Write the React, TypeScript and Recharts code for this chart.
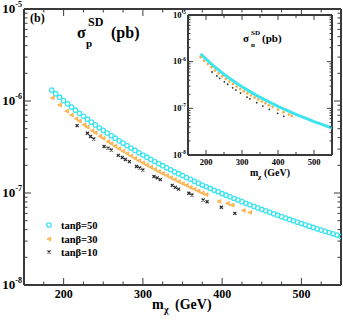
import React from "react";
import { ScatterChart, Scatter, XAxis, YAxis } from "recharts";

const FONT = "'Liberation Serif', 'Times New Roman', serif";
const AXIS = "#3a3a3a";
const CYAN = "#3ee4f0";
const ORANGE = "#ffa83a";
const BLACK = "#2a2a2a";

// main panel: sigma_p^SD (pb) vs m_chi (GeV)
const mTan50 = [
  185, 190, 195, 200, 205, 210, 215, 220, 225, 230, 235, 240, 245, 250, 255, 260, 265, 270, 275, 280,
  285, 290, 295, 300, 305, 310, 315, 320, 325, 330, 335, 340, 345, 350, 355, 360, 365, 370, 375, 380,
  385, 390, 395, 400, 405, 410, 415, 420, 425, 430, 435, 440, 445, 450, 455, 460, 465, 470, 475, 480,
  485, 490, 495, 500, 505, 510, 515, 520, 525, 530, 535, 540, 545, 550,
];
const sigTan50 = [
  1.315e-6, 1.2e-6, 1.1e-6, 1.01e-6, 9.31e-7, 8.59e-7, 7.94e-7, 7.36e-7, 6.82e-7, 6.34e-7, 5.89e-7, 5.5e-7,
  5.12e-7, 4.79e-7, 4.48e-7, 4.2e-7, 3.94e-7, 3.69e-7, 3.48e-7, 3.27e-7, 3.08e-7, 2.9e-7, 2.74e-7, 2.59e-7,
  2.45e-7, 2.32e-7, 2.2e-7, 2.09e-7, 1.98e-7, 1.88e-7, 1.79e-7, 1.7e-7, 1.62e-7, 1.55e-7, 1.47e-7, 1.41e-7,
  1.34e-7, 1.28e-7, 1.22e-7, 1.17e-7, 1.12e-7, 1.07e-7, 1.03e-7, 9.86e-8, 9.46e-8, 9.08e-8, 8.71e-8, 8.37e-8,
  8.05e-8, 7.73e-8, 7.45e-8, 7.16e-8, 6.89e-8, 6.64e-8, 6.4e-8, 6.17e-8, 5.94e-8, 5.74e-8, 5.53e-8, 5.35e-8,
  5.16e-8, 4.99e-8, 4.82e-8, 4.66e-8, 4.51e-8, 4.36e-8, 4.22e-8, 4.08e-8, 3.95e-8, 3.83e-8, 3.72e-8, 3.6e-8,
  3.49e-8, 3.38e-8,
];
const mTan30 = [
  186, 195, 204, 210, 216, 220, 226, 230, 236, 240, 246, 250, 256, 260, 265, 270, 275, 280, 285, 290,
  295, 300, 305, 310, 315, 320, 325, 330, 335, 340, 345, 350, 355, 360, 365, 370, 375, 380, 396, 407,
  413, 427, 435,
];
const sigTan30 = [
  1.08e-6, 9.06e-7, 7.76e-7, 7.05e-7, 6.41e-7, 6.04e-7, 5.52e-7, 5.2e-7, 4.76e-7, 4.51e-7, 4.14e-7, 3.93e-7,
  3.62e-7, 3.44e-7, 3.23e-7, 3.03e-7, 2.85e-7, 2.68e-7, 2.53e-7, 2.38e-7, 2.25e-7, 2.13e-7, 2.01e-7, 1.91e-7,
  1.81e-7, 1.71e-7, 1.63e-7, 1.55e-7, 1.47e-7, 1.4e-7, 1.33e-7, 1.27e-7, 1.21e-7, 1.15e-7, 1.1e-7, 1.05e-7,
  1.0e-7, 9.61e-8, 8.1e-8, 7.7e-8, 7.4e-8, 6.45e-8, 6.15e-8,
];
const mTan10 = [
  217, 230, 234, 238, 251, 256, 260, 269, 274, 278, 283, 292, 296, 300, 314, 318, 322, 337, 341, 345,
  358, 362, 376, 381, 399, 416,
];
const sigTan10 = [
  5.4e-7, 4.46e-7, 4.11e-7, 3.86e-7, 3.2e-7, 3.08e-7, 2.93e-7, 2.56e-7, 2.43e-7, 2.31e-7, 2.19e-7, 1.94e-7,
  1.87e-7, 1.78e-7, 1.51e-7, 1.46e-7, 1.4e-7, 1.21e-7, 1.15e-7, 1.1e-7, 9.93e-8, 9.51e-8, 8.39e-8, 8.04e-8,
  7.0e-8, 6.01e-8,
];

// inset: sigma_n^SD (pb)
const mInset50 = [185, 200, 220, 240, 260, 280, 300, 320, 340, 360, 380, 400, 420, 440, 460, 480, 500, 520, 540, 550];
const sigInset50 = [
  1.47e-6, 1.13e-6, 8.2e-7, 6.15e-7, 4.7e-7, 3.66e-7, 2.9e-7, 2.34e-7, 1.9e-7, 1.58e-7, 1.31e-7, 1.1e-7,
  9.4e-8, 8.0e-8, 6.9e-8, 6.0e-8, 5.2e-8, 4.57e-8, 4.03e-8, 3.85e-8,
];
const mInset30 = [
  185, 195, 205, 215, 225, 235, 245, 255, 265, 275, 285, 295, 305, 315, 325, 335, 345, 355, 365, 375, 385,
  400, 415, 430, 438,
];
const sigInset30 = [
  1.25e-6, 1.05e-6, 8.86e-7, 7.56e-7, 6.5e-7, 5.61e-7, 4.87e-7, 4.26e-7, 3.75e-7, 3.31e-7, 2.93e-7, 2.61e-7,
  2.33e-7, 2.09e-7, 1.88e-7, 1.7e-7, 1.54e-7, 1.4e-7, 1.28e-7, 1.16e-7, 1.07e-7, 9.39e-8, 8.29e-8, 7.36e-8,
  6.95e-8,
];
const mInset10 = [217, 230, 238, 251, 260, 274, 283, 296, 314, 322, 341, 358, 376, 399, 416];
const sigInset10 = [
  6.0e-7, 4.95e-7, 4.4e-7, 3.7e-7, 3.28e-7, 2.75e-7, 2.46e-7, 2.12e-7, 1.74e-7, 1.6e-7, 1.32e-7, 1.12e-7,
  9.5e-8, 7.8e-8, 6.75e-8,
];

const xTicksMain = [150, 175, 200, 225, 250, 275, 300, 325, 350, 375, 400, 425, 450, 475, 500, 525, 550];
const xTicksInset = [150, 200, 250, 300, 350, 400, 450, 500, 550];
const xLabels = [200, 300, 400, 500];
const yTicks = [
  1e-8, 2e-8, 3e-8, 4e-8, 5e-8, 6e-8, 7e-8, 8e-8, 9e-8,
  1e-7, 2e-7, 3e-7, 4e-7, 5e-7, 6e-7, 7e-7, 8e-7, 9e-7,
  1e-6, 2e-6, 3e-6, 4e-6, 5e-6, 6e-6, 7e-6, 8e-6, 9e-6, 1e-5,
];

const pts = (ms: number[], ss: number[]) => ms.map((m, i) => ({ m, s: ss[i] }));

const isDecade = (v: number) => Math.abs(Math.log10(v) - Math.round(Math.log10(v))) < 1e-6;

function makeYTick(side: "left" | "right", major: number, minor: number, fs: number) {
  return (props: any) => {
    const { x, y, payload } = props;
    const v = payload.value;
    const dec = isDecade(v);
    const dir = side === "left" ? 1 : -1;
    return (
      <g>
        <line x1={x} x2={x + dir * (dec ? major : minor)} y1={y} y2={y} stroke={AXIS} strokeWidth={1} />
        {side === "left" && dec && (
          <text x={x - 2} y={y + fs * 0.32} textAnchor="end" fontFamily={FONT} fontWeight="bold" fontSize={fs} fill="#000">
            10
            <tspan dy={-fs * 0.45} fontSize={fs * 0.62}>
              {Math.round(Math.log10(v))}
            </tspan>
          </text>
        )}
      </g>
    );
  };
}

function makeXTick(side: "bottom" | "top", major: number, minor: number, fs: number) {
  return (props: any) => {
    const { x, y, payload } = props;
    const v = payload.value;
    const big = v % 100 === 0;
    const dir = side === "bottom" ? -1 : 1;
    return (
      <g>
        <line x1={x} x2={x} y1={y} y2={y + dir * (big ? major : minor)} stroke={AXIS} strokeWidth={1} />
        {side === "bottom" && xLabels.includes(v) && (
          <text x={x} y={y + fs + 1} textAnchor="middle" fontFamily={FONT} fontWeight="bold" fontSize={fs} fill="#000">
            {v}
          </text>
        )}
      </g>
    );
  };
}

const openCircle = (p: any) => <circle cx={p.cx} cy={p.cy} r={2.2} fill="none" stroke={CYAN} strokeWidth={1.3} />;
const leftTri = (p: any) => (
  <polygon
    points={`${p.cx - 2},${p.cy} ${p.cx + 1.7},${p.cy - 1.8} ${p.cx + 1.7},${p.cy + 1.8}`}
    fill="#ffc676"
    stroke={ORANGE}
    strokeWidth={0.9}
  />
);
const cross = (p: any) => (
  <path
    d={`M${p.cx - 1.5},${p.cy - 1.5}L${p.cx + 1.5},${p.cy + 1.5}M${p.cx - 1.5},${p.cy + 1.5}L${p.cx + 1.5},${p.cy - 1.5}`}
    stroke={BLACK}
    strokeWidth={1.2}
  />
);
const dot = (r: number, c: string) => (p: any) => <circle cx={p.cx} cy={p.cy} r={r} fill={c} />;
const nothing = () => <g />;

const axisLine = { stroke: AXIS, strokeWidth: 2 };

export default function App() {
  const tan50 = pts(mTan50, sigTan50);
  const tan30 = pts(mTan30, sigTan30);
  const tan10 = pts(mTan10, sigTan10);
  const in50 = pts(mInset50, sigInset50);
  const in30 = pts(mInset30, sigInset30);
  const in10 = pts(mInset10, sigInset10);

  return (
    <div style={{ position: "relative", width: 343, height: 320, background: "#fff" }}>
      <style>{`body{margin:0}`}</style>
      <ScatterChart width={343} height={320} margin={{ top: 0, right: 0, bottom: 0, left: 0 }}>
        <XAxis
          xAxisId="b" dataKey="m" type="number" domain={[150, 550]} ticks={xTicksMain} interval={0}
          tickSize={0} tickMargin={0} height={35} allowDataOverflow axisLine={axisLine} tickLine={false}
          tick={makeXTick("bottom", 7, 3.5, 12)}
        />
        <XAxis
          xAxisId="t" orientation="top" dataKey="m" type="number" domain={[150, 550]} ticks={xTicksMain} interval={0}
          tickSize={0} tickMargin={0} height={9} allowDataOverflow axisLine={axisLine} tickLine={false}
          tick={makeXTick("top", 7, 3.5, 12)}
        />
        <YAxis
          yAxisId="l" dataKey="s" type="number" scale="log" domain={[1e-8, 1e-5]} ticks={yTicks} interval={0}
          tickSize={0} tickMargin={0} width={24} allowDataOverflow axisLine={axisLine} tickLine={false}
          tick={makeYTick("left", 7, 3.5, 13)}
        />
        <YAxis
          yAxisId="r" orientation="right" dataKey="s" type="number" scale="log" domain={[1e-8, 1e-5]} ticks={yTicks}
          interval={0} tickSize={0} tickMargin={0} width={2} allowDataOverflow axisLine={axisLine} tickLine={false}
          tick={makeYTick("right", 7, 3.5, 13)}
        />
        <Scatter xAxisId="t" yAxisId="r" data={tan50} shape={nothing} isAnimationActive={false} />
        <Scatter xAxisId="b" yAxisId="l" data={tan50} shape={openCircle} isAnimationActive={false} />
        <Scatter xAxisId="b" yAxisId="l" data={tan30} shape={leftTri} isAnimationActive={false} />
        <Scatter xAxisId="b" yAxisId="l" data={tan10} shape={cross} isAnimationActive={false} />
      </ScatterChart>

      <div style={{ position: "absolute", left: 155, top: 5 }}>
        <ScatterChart width={185} height={180} margin={{ top: 0, right: 0, bottom: 0, left: 0 }}>
          <XAxis
            xAxisId="b" dataKey="m" type="number" domain={[150, 550]} ticks={xTicksInset} interval={0}
            tickSize={0} tickMargin={0} height={30} allowDataOverflow axisLine={axisLine} tickLine={false}
            tick={makeXTick("bottom", 5, 3, 8.5)}
          />
          <XAxis
            xAxisId="t" orientation="top" dataKey="m" type="number" domain={[150, 550]} ticks={xTicksInset}
            interval={0} tickSize={0} tickMargin={0} height={10} allowDataOverflow axisLine={axisLine} tickLine={false}
            tick={makeXTick("top", 5, 3, 8.5)}
          />
          <YAxis
            yAxisId="l" dataKey="s" type="number" scale="log" domain={[1e-8, 1e-5]} ticks={yTicks} interval={0}
            tickSize={0} tickMargin={0} width={33} allowDataOverflow axisLine={axisLine} tickLine={false}
            tick={makeYTick("left", 5, 2.5, 8.5)}
          />
          <YAxis
            yAxisId="r" orientation="right" dataKey="s" type="number" scale="log" domain={[1e-8, 1e-5]}
            ticks={yTicks} interval={0} tickSize={0} tickMargin={0} width={8} allowDataOverflow axisLine={axisLine}
            tickLine={false} tick={makeYTick("right", 5, 2.5, 8.5)}
          />
          <Scatter xAxisId="t" yAxisId="r" data={in50} shape={nothing} isAnimationActive={false} />
          <Scatter xAxisId="b" yAxisId="l" data={in10} shape={dot(0.9, BLACK)} isAnimationActive={false} />
          <Scatter xAxisId="b" yAxisId="l" data={in30} shape={dot(1.3, ORANGE)} isAnimationActive={false} />
          <Scatter
            xAxisId="b" yAxisId="l" data={in50} shape={nothing} line={{ stroke: CYAN, strokeWidth: 3 }}
            lineType="joint" isAnimationActive={false}
          />
        </ScatterChart>
      </div>

      <svg width={343} height={320} style={{ position: "absolute", left: 0, top: 0, pointerEvents: "none" }}>
        <g fontFamily={FONT} fontWeight="bold" fill="#000">
          <text x={30} y={22} fontSize={12}>(b)</text>
          <text x={77} y={38} fontSize={16}>σ</text>
          <text x={88} y={26} fontSize={12}>SD</text>
          <text x={86} y={47} fontSize={11}>p</text>
          <text x={111} y={38} fontSize={16}>(pb)</text>

          <text x={243} y={42} fontSize={11}>σ</text>
          <text x={251} y={35} fontSize={7}>SD</text>
          <text x={251} y={47} fontSize={7}>n</text>
          <text x={262} y={42} fontSize={11}>(pb)</text>

          <text x={152} y={309} fontSize={14}>m</text>
          <text x={164} y={313} fontSize={10}>χ</text>
          <text x={175} y={309} fontSize={14}>(GeV)</text>

          <text x={250} y={176} fontSize={10}>m</text>
          <text x={258} y={179} fontSize={7}>χ</text>
          <text x={264} y={176} fontSize={10}>(GeV)</text>

          <text x={61} y={229} fontSize={10.5}>tanβ=50</text>
          <text x={61} y={243} fontSize={10.5}>tanβ=30</text>
          <text x={61} y={256} fontSize={10.5}>tanβ=10</text>
        </g>
        <circle cx={49} cy={225} r={2.2} fill="none" stroke={CYAN} strokeWidth={1.3} />
        <polygon points="47,239 50.7,237.2 50.7,240.8" fill="#ffc676" stroke={ORANGE} strokeWidth={0.9} />
        <path d="M47.5,250.5L50.5,253.5M47.5,253.5L50.5,250.5" stroke={BLACK} strokeWidth={1.2} />
      </svg>
    </div>
  );
}
